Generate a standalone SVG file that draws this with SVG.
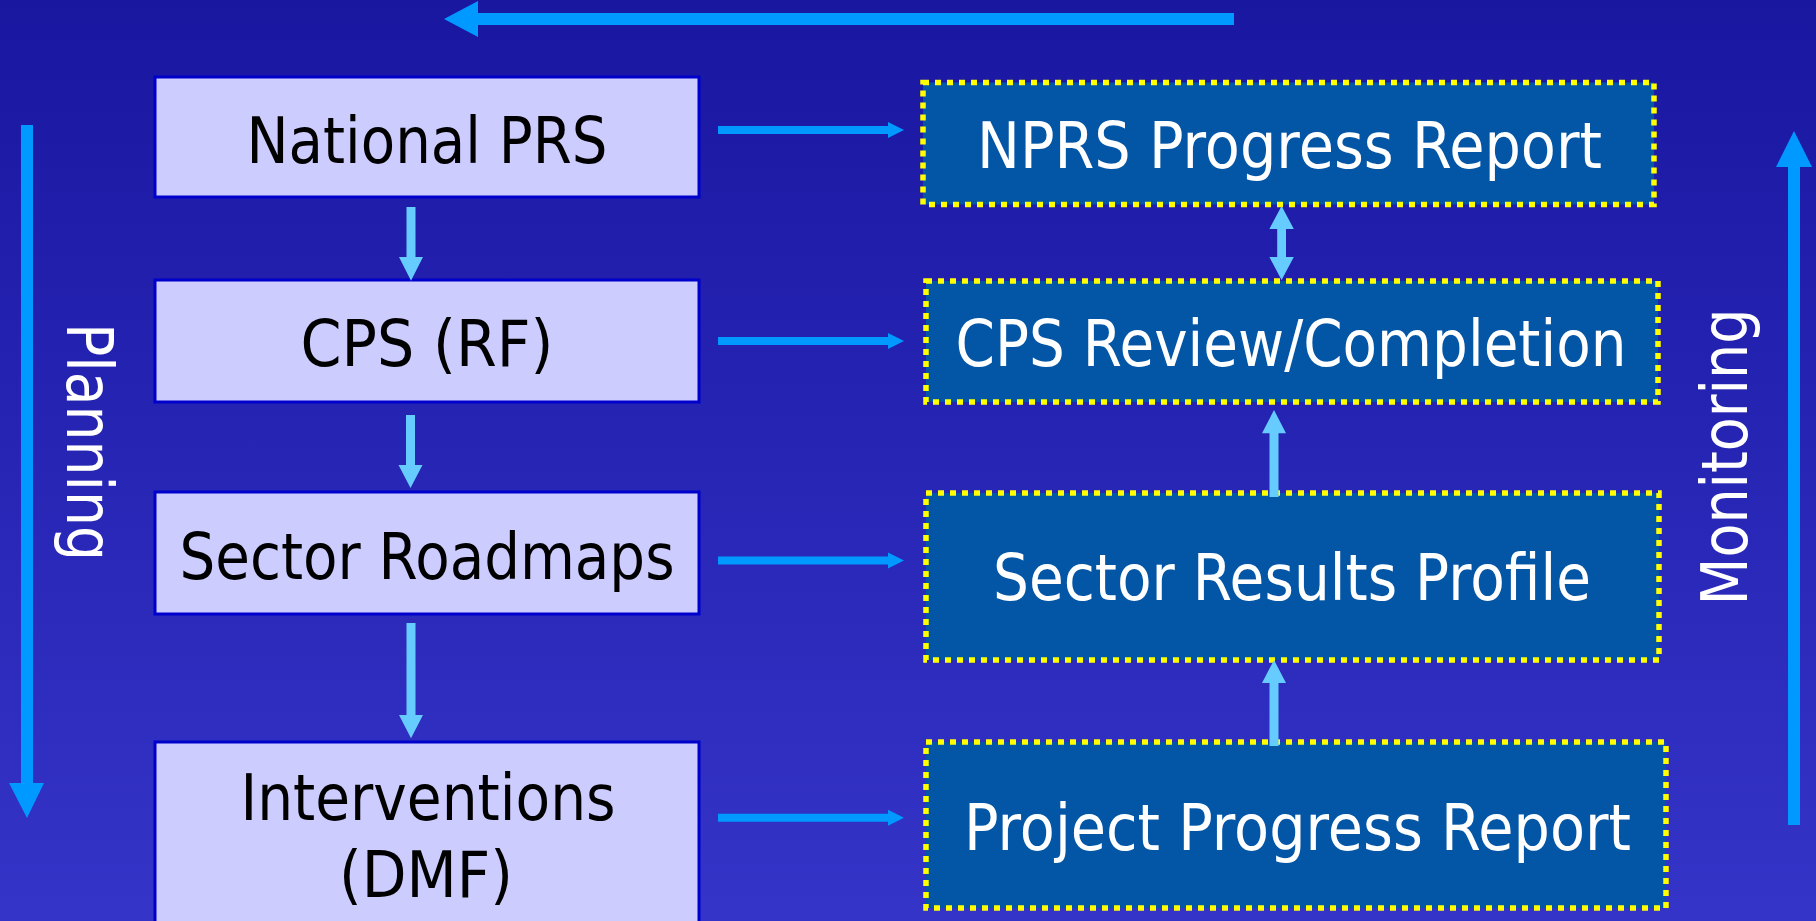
<svg xmlns="http://www.w3.org/2000/svg" width="1816" height="921" viewBox="0 0 1816 921">
<defs>
<linearGradient id="bg" x1="0" y1="0" x2="0" y2="1">
<stop offset="0" stop-color="#1916a0"/>
<stop offset="1" stop-color="#3434c8"/>
</linearGradient>
<style>
.plan rect{fill:#ccccff;stroke:#0000cc;stroke-width:3}
.plan text{fill:#000;font-family:"DejaVu Sans","Verdana",sans-serif;font-size:64px;text-anchor:middle}
.mon rect{fill:#0355a6;stroke:#ffff00;stroke-width:5.5;stroke-dasharray:6 6}
.mon text{fill:#fff;font-family:"DejaVu Sans","Verdana",sans-serif;font-size:64px;text-anchor:middle}
.side{fill:#fff;font-family:"DejaVu Sans","Verdana",sans-serif;font-size:64px;text-anchor:middle}
.big{fill:#0099ff}
.lite{fill:#66ccff}
</style>
</defs>
<rect width="1816" height="921" fill="url(#bg)"/>

<g id="national-prs" class="plan">
<rect x="155" y="77" width="544" height="120"/>
<text x="427" y="163" textLength="361" lengthAdjust="spacingAndGlyphs">National PRS</text>
</g>
<g id="cps-rf" class="plan">
<rect x="155" y="280" width="544" height="122"/>
<text x="427" y="366" textLength="253" lengthAdjust="spacingAndGlyphs">CPS (RF)</text>
</g>
<g id="sector-roadmaps" class="plan">
<rect x="155" y="492" width="544" height="122"/>
<text x="427" y="579" textLength="495" lengthAdjust="spacingAndGlyphs">Sector Roadmaps</text>
</g>
<g id="interventions" class="plan">
<rect x="155" y="742" width="544" height="200"/>
<text x="428" y="820" textLength="375" lengthAdjust="spacingAndGlyphs">Interventions</text>
<text x="426" y="897" textLength="174" lengthAdjust="spacingAndGlyphs">(DMF)</text>
</g>

<g id="nprs-progress-report" class="mon">
<rect x="923" y="82.5" width="731" height="122"/>
<text x="1289.5" y="168" textLength="625" lengthAdjust="spacingAndGlyphs">NPRS Progress Report</text>
</g>
<g id="cps-review" class="mon">
<rect x="926" y="281" width="732" height="121"/>
<text x="1291" y="366" textLength="671" lengthAdjust="spacingAndGlyphs">CPS Review/Completion</text>
</g>
<g id="sector-results-profile" class="mon">
<rect x="926" y="493" width="733" height="167"/>
<text x="1292" y="600" textLength="598" lengthAdjust="spacingAndGlyphs">Sector Results Profile</text>
</g>
<g id="project-progress-report" class="mon">
<rect x="926" y="742" width="740" height="166"/>
<text x="1297.5" y="850" textLength="667" lengthAdjust="spacingAndGlyphs">Project Progress Report</text>
</g>

<g id="labels">
<text class="side" transform="translate(67 442) rotate(90)" textLength="238" lengthAdjust="spacingAndGlyphs">Planning</text>
<text class="side" transform="translate(1747 457) rotate(-90)" textLength="297" lengthAdjust="spacingAndGlyphs">Monitoring</text>
</g>

<g id="connectors">
<polygon class="big" points="1234,13 478,13 478,1 444,19 478,37 478,25 1234,25"/>
<polygon class="big" points="21,125 33,125 33,783 44,783 27,818 9,783 21,783"/>
<polygon class="big" points="1788,825 1800,825 1800,167 1812,167 1794,131 1776,167 1788,167"/>
<polygon class="big" points="718,126 888,126 888,122 904,130 888,138 888,134 718,134"/>
<polygon class="big" points="718,337 888,337 888,333 904,341 888,349 888,345 718,345"/>
<polygon class="big" points="718,556.5 888,556.5 888,552.5 904,560.5 888,568.5 888,564.5 718,564.5"/>
<polygon class="big" points="718,813.7 888,813.7 888,809.7 904,817.7 888,825.7 888,821.7 718,821.7"/>
<polygon class="lite" points="406.5,207 415.5,207 415.5,257 423,257 411,280.7 399,257 406.5,257"/>
<polygon class="lite" points="406,415 415,415 415,465 422.5,465 410.5,488 398.5,465 406,465"/>
<polygon class="lite" points="406.5,623 415.5,623 415.5,715 423,715 411,738.3 399,715 406.5,715"/>
<polygon class="lite" points="1281.6,206 1293.8,229 1286,229 1286,257 1293.8,257 1281.6,280 1269.4,257 1277.2,257 1277.2,229 1269.4,229"/>
<polygon class="lite" points="1274,410 1286,433.3 1278.5,433.3 1278.5,497 1269.5,497 1269.5,433.3 1262,433.3"/>
<polygon class="lite" points="1274,660 1286,683 1278.5,683 1278.5,746 1269.5,746 1269.5,683 1262,683"/>
</g>
</svg>
